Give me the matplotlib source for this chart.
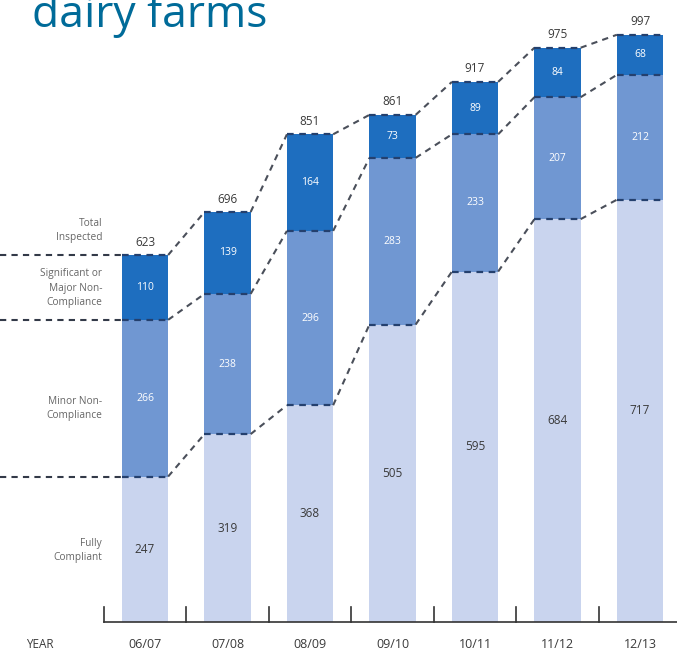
import matplotlib
matplotlib.use("Agg")
import matplotlib.pyplot as plt
import numpy as np

years = ["06/07", "07/08", "08/09", "09/10", "10/11", "11/12", "12/13"]
fully = [247, 319, 368, 505, 595, 684, 717]
minor = [266, 238, 296, 283, 233, 207, 212]
major = [110, 139, 164, 73, 89, 84, 68]
totals = [623, 696, 851, 861, 917, 975, 997]

c_light = "#c9d4ee"
c_mid = "#7097d2"
c_dark = "#1e6ebf"
c_line = "#4a4f5a"
c_text = "#3a3a3a"
c_grey = "#666666"

fig = plt.figure(figsize=(6.77, 6.55), dpi=100)
ax = fig.add_axes([0, 0, 1, 1])
ax.set_xlim(-1.758, 6.448)
ax.set_ylim(-56, 1056)
ax.axis("off")

font = "Open Sans"
x = np.arange(len(years))
w = 0.56
fully_a = np.array(fully)
minor_a = np.array(minor)
major_a = np.array(major)
b1 = fully_a
b2 = fully_a + minor_a
b3 = b2 + major_a

ax.bar(x, fully_a, w, color=c_light, zorder=2)
ax.bar(x, minor_a, w, bottom=b1, color=c_mid, zorder=2)
ax.bar(x, major_a, w, bottom=b2, color=c_dark, zorder=2)

dash = (0, (3.0, 2.5))
# boundaries across bars
for lvl in (b1, b2, b3):
    for i in range(len(x)):
        ax.plot([x[i] - w / 2, x[i] + w / 2], [lvl[i], lvl[i]], color="#24406e",
                lw=1.6, linestyle=dash, zorder=4)
    for i in range(len(x) - 1):
        ax.plot([x[i] + w / 2, x[i + 1] - w / 2], [lvl[i], lvl[i + 1]], color=c_line,
                lw=1.5, linestyle=dash, zorder=3)
    # left legend dashed line
    ax.plot([-1.76, x[0] - w / 2], [lvl[0], lvl[0]], color="#333a48", lw=1.5,
            linestyle=dash, zorder=3, clip_on=False)

# value labels
for i in range(len(x)):
    ax.text(x[i], b1[i] / 2, str(fully[i]), ha="center", va="center",
            color=c_text, fontsize=8.5, family=font, zorder=5)
    ax.text(x[i], b1[i] + minor[i] / 2, str(minor[i]), ha="center", va="center",
            color="white", fontsize=7.5, family=font, zorder=5)
    ax.text(x[i], b2[i] + major[i] / 2, str(major[i]), ha="center", va="center",
            color="white", fontsize=7.5, family=font, zorder=5)
    ax.text(x[i], b3[i] + 22, str(totals[i]), ha="center", va="center",
            color=c_text, fontsize=8.5, family=font, zorder=5)

# baseline & ticks
ax.plot([-0.5, 6.448], [0, 0], color="#333333", lw=1.2, zorder=5, clip_on=False)
for t in np.arange(-0.5, 6.0, 1.0):
    ax.plot([t, t], [0, 25], color="#333333", lw=1.2, zorder=5)

for i, lab in enumerate(years):
    ax.text(x[i], -39, lab, ha="center", va="center", color=c_text,
            fontsize=9, family=font)
ax.text(-1.27, -39, "YEAR", ha="center", va="center", color=c_text,
        fontsize=8.5, family=font)

# left legend labels
lx = -0.52
kw = dict(ha="right", va="center", color=c_grey, fontsize=7.3, family=font,
          linespacing=1.4)
ax.text(lx, 665, "Total\nInspected", **kw)
ax.text(lx, 567, "Significant or\nMajor Non-\nCompliance", **kw)
ax.text(lx, 363, "Minor Non-\nCompliance", **kw)
ax.text(lx, 122, "Fully\nCompliant", **kw)

fig.text(32 / 677, 1 - 27 / 655, "dairy farms", ha="left", va="baseline",
         color="#006b99", fontsize=32, family=font)

fig.savefig("out.png", dpi=100)
